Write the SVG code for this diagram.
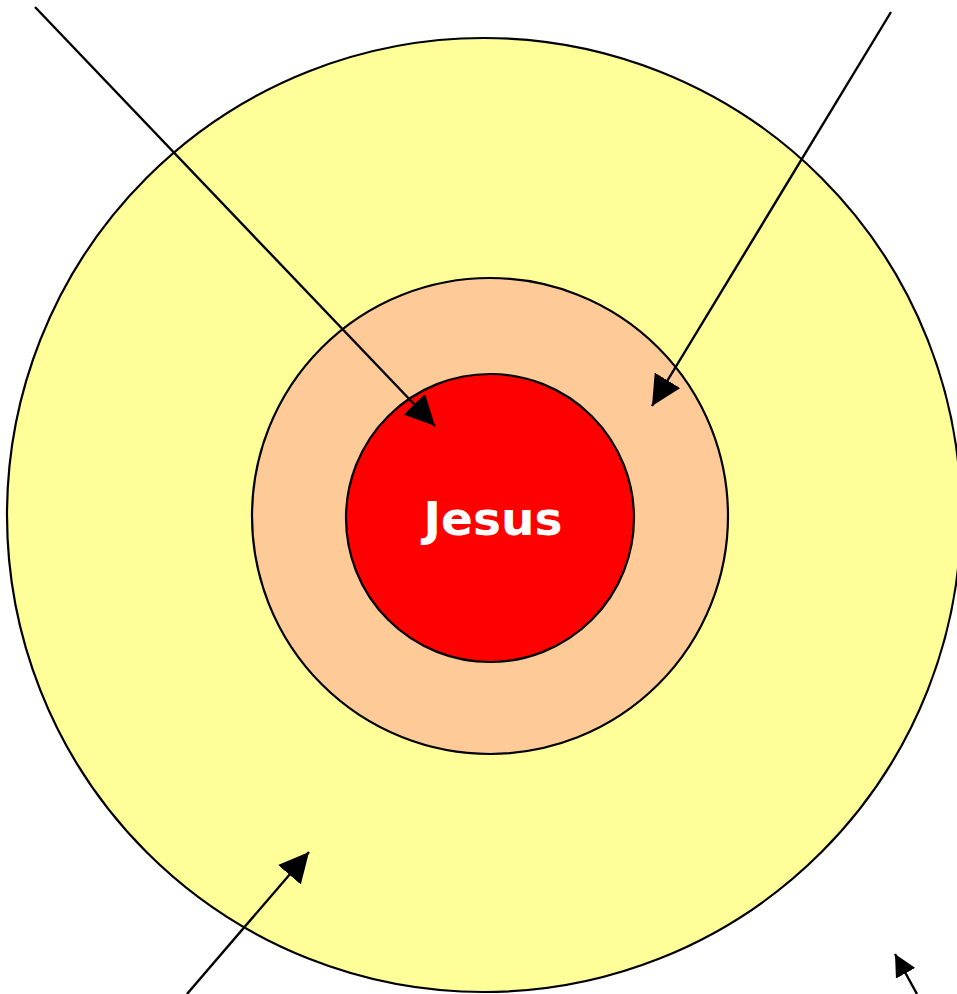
<svg xmlns="http://www.w3.org/2000/svg" width="957" height="994" viewBox="0 0 957 994">
<style>
.ring{stroke:#000;stroke-width:2.2}
.conn{stroke:#000;stroke-width:2.4;fill:none}
.lbl{font-family:"DejaVu Sans",Verdana,sans-serif;font-weight:bold;fill:#fff;font-size:47px;text-anchor:middle}
</style>
<defs>
<marker id="ah" markerUnits="userSpaceOnUse" markerWidth="30" markerHeight="30" viewBox="0 0 24 24" refX="24" refY="12" orient="auto">
<path d="M0,0 L24,12 L0,24 Z" fill="#000"/>
</marker>
<marker id="ahs" markerUnits="userSpaceOnUse" markerWidth="22" markerHeight="22" viewBox="0 0 18 18" refX="18" refY="9" orient="auto">
<path d="M0,0 L18,9 L0,18 Z" fill="#000"/>
</marker>
</defs>
<rect width="957" height="994" fill="#fff"/>
<g id="outer"><circle class="ring" cx="484" cy="515" r="477" fill="#ffff99"/></g>
<g id="middle"><circle class="ring" cx="490" cy="516" r="238" fill="#fdca98"/></g>
<g id="inner"><circle class="ring" cx="490" cy="518" r="144" fill="#ff0000"/>
<text class="lbl" x="493" y="535">Jesus</text></g>
<g id="connectors">
<line class="conn" x1="35" y1="7" x2="435" y2="426" marker-end="url(#ah)"/>
<line class="conn" x1="891" y1="12" x2="652" y2="406" marker-end="url(#ah)"/>
<line class="conn" x1="187" y1="994" x2="309" y2="852" marker-end="url(#ah)"/>
<line class="conn" x1="917" y1="994" x2="895" y2="954" marker-end="url(#ahs)"/>
</g>
</svg>
